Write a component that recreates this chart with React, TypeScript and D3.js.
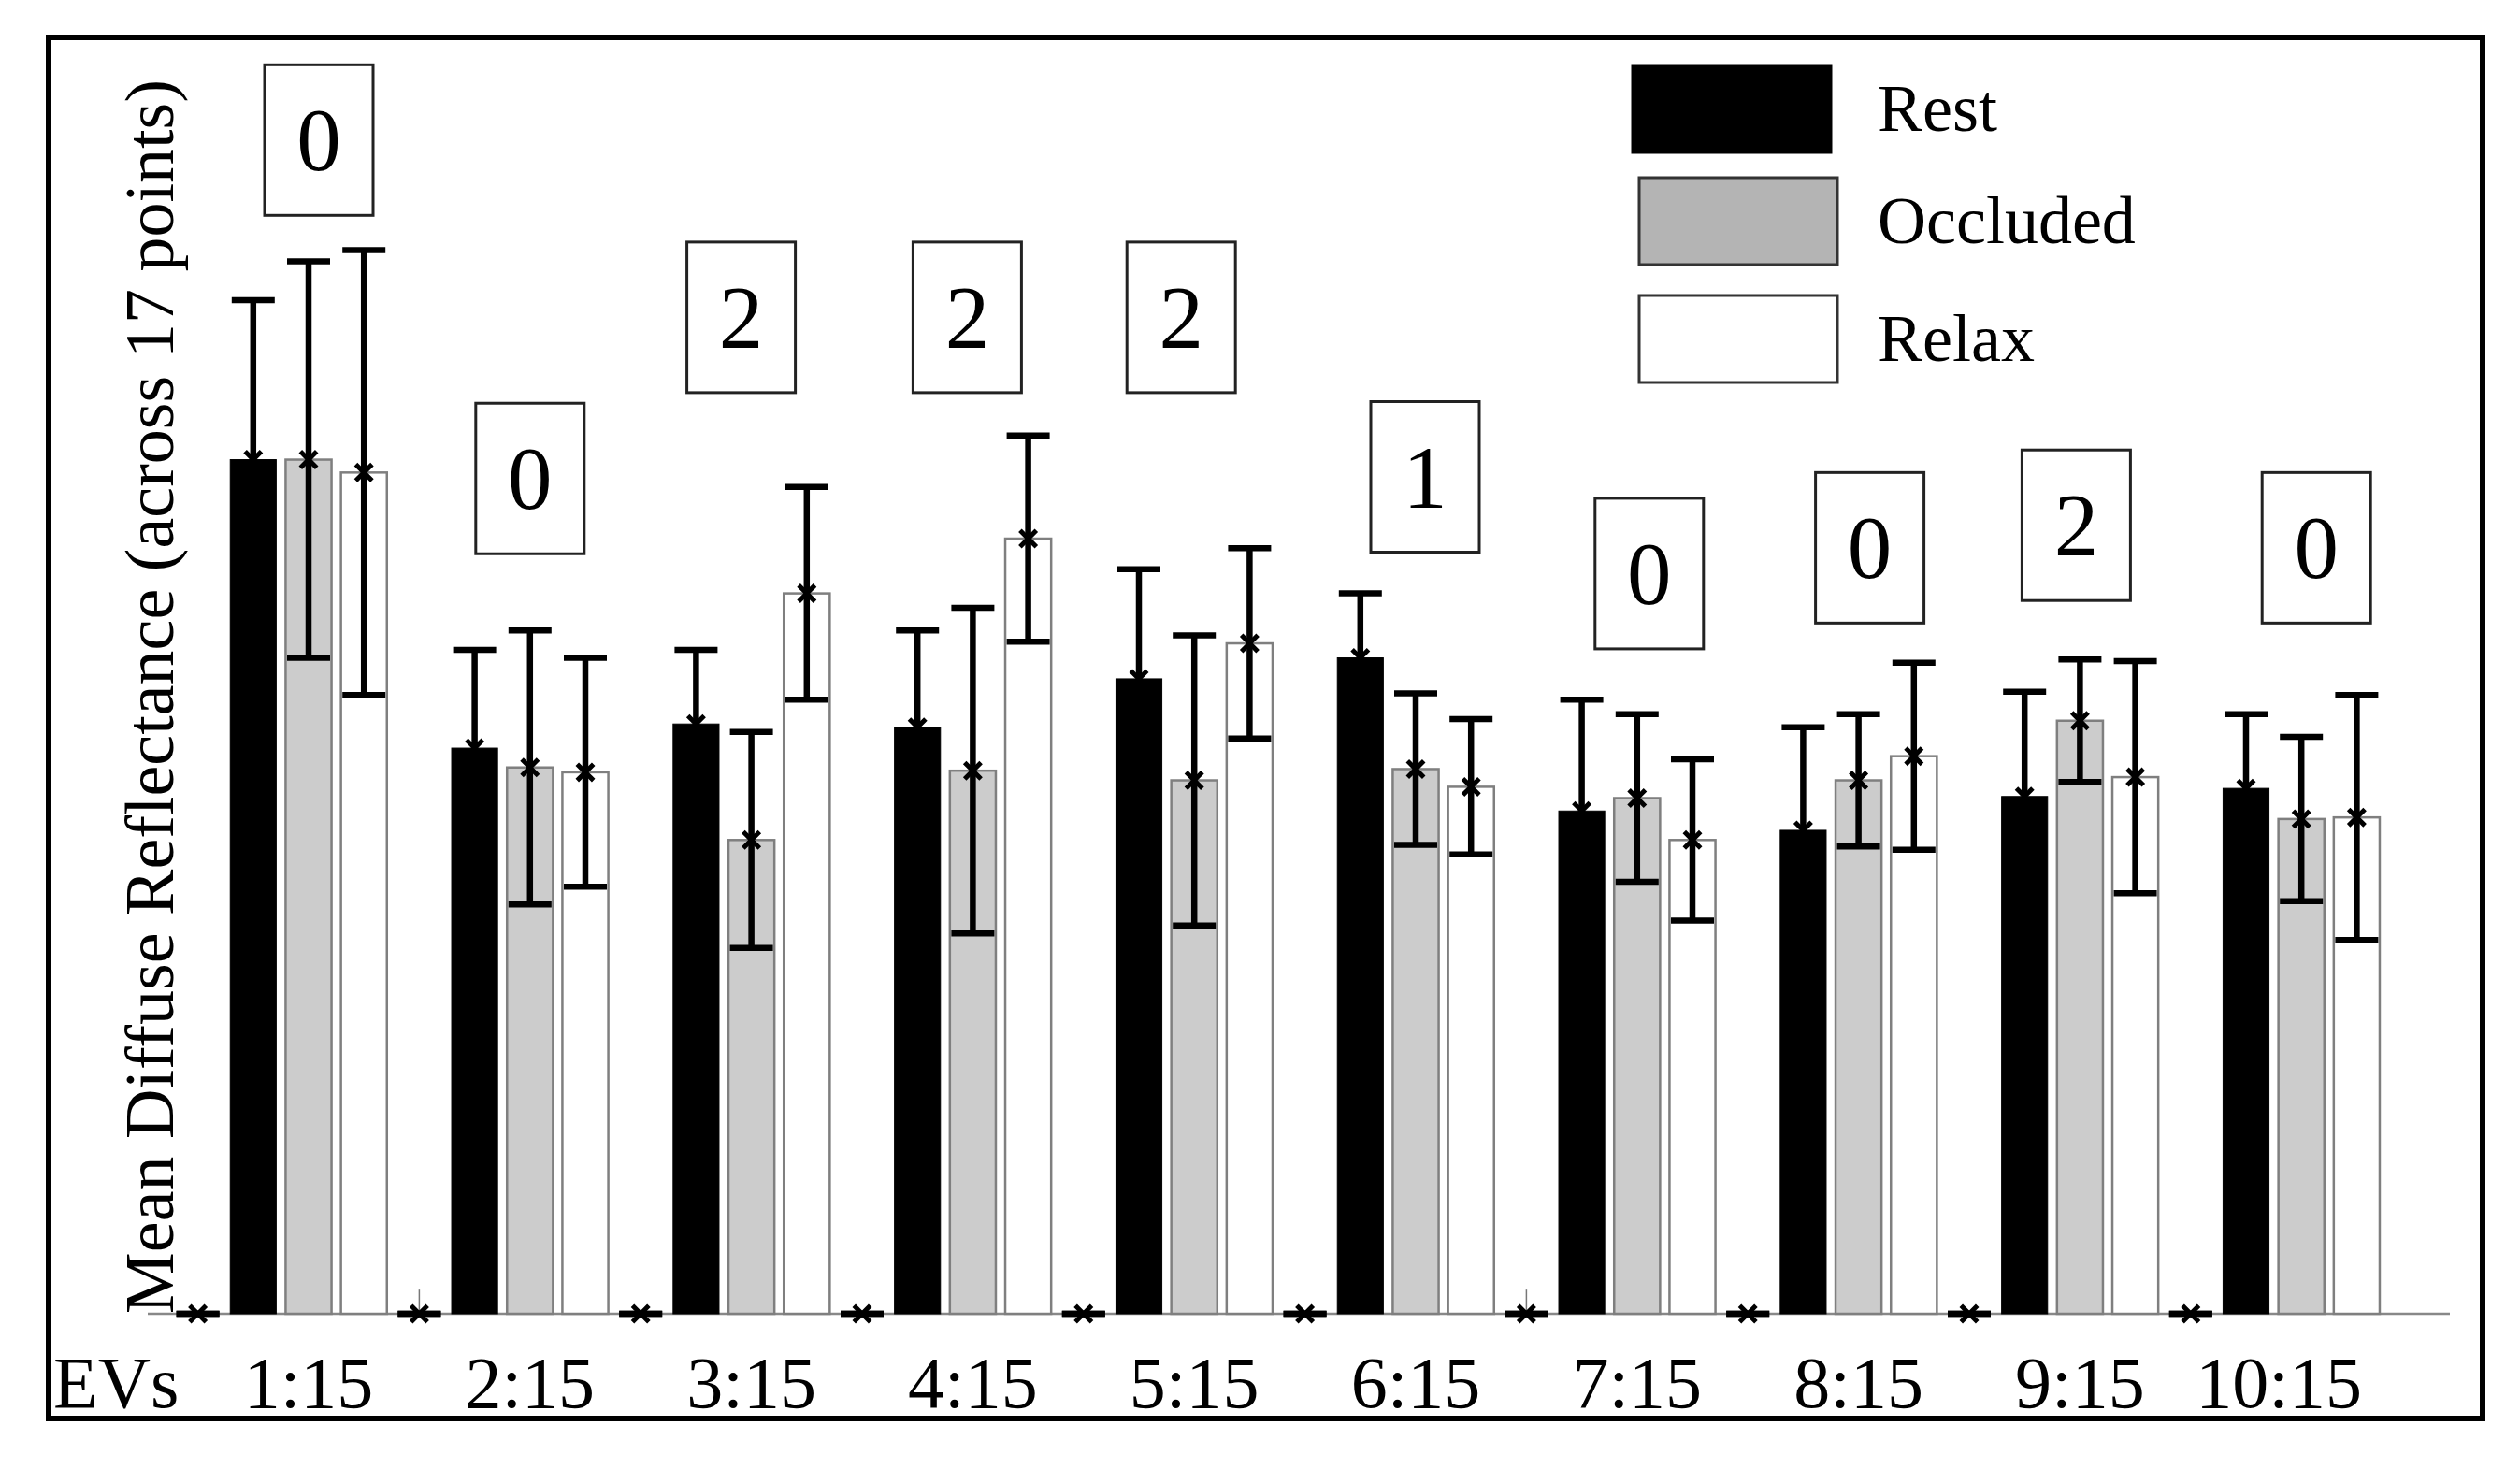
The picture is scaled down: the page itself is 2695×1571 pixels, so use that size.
import * as d3 from "d3";
import { useEffect, useRef } from "react";

const groups = ["1:15", "2:15", "3:15", "4:15", "5:15", "6:15", "7:15", "8:15", "9:15", "10:15"];
const series = ["Zero", "Rest", "Occluded", "Relax"];

// values (arbitrary reflectance units)
const zeroValues = [0, 0, 0, 0, 0, 0, 0, 0, 0, 0];
const zeroErrors = [0, 0, 0, 0, 0, 0, 0, 0, 0, 0];
const zeroTicks = [0, 0.015, 0, 0, 0, 0, 0.015, 0, 0, 0];
const restValues = [0.53, 0.351, 0.366, 0.364, 0.394, 0.407, 0.312, 0.3, 0.321, 0.326];
const restErrors = [0.099, 0.061, 0.046, 0.06, 0.068, 0.04, 0.069, 0.064, 0.065, 0.046];
const occludedValues = [0.53, 0.339, 0.294, 0.337, 0.331, 0.338, 0.32, 0.331, 0.368, 0.307];
const occludedErrors = [0.123, 0.085, 0.067, 0.101, 0.09, 0.047, 0.052, 0.041, 0.038, 0.051];
const relaxValues = [0.522, 0.336, 0.447, 0.481, 0.416, 0.327, 0.294, 0.346, 0.333, 0.308];
const relaxErrors = [0.138, 0.071, 0.066, 0.064, 0.059, 0.042, 0.05, 0.058, 0.072, 0.076];

// count boxes above each group
const boxLabels = ["0", "0", "2", "2", "2", "1", "0", "0", "2", "0"];
const boxLevels = [0.775, 0.565, 0.665, 0.665, 0.665, 0.566, 0.506, 0.522, 0.536, 0.522];

const legendLabels = ["Rest", "Occluded", "Relax"];

const W = 2695;
const H = 1571;
const FONT = "'Liberation Serif', 'Times New Roman', serif";

// hand placed boxes / labels in the original are a little off-centre
const boxNudge = [11, 0, -11, -6, -14, 10, 13, 12, -4, 16];
const labelNudge = [0, 0, 0, 0, 0, 0, 0, 0, 0, -24];

export default function App() {
  const svgRef = useRef<SVGSVGElement>(null);

  useEffect(() => {
    if (!svgRef.current) return;
    const svg = d3.select(svgRef.current);
    svg.selectAll("*").remove();

    const baseline = 1405;
    const x0 = d3.scaleBand<string>().domain(groups).range([182, 2550]).padding(0);
    const x1 = d3
      .scaleBand<string>()
      .domain(series)
      .range([0, x0.bandwidth()])
      .paddingInner(0.17)
      .paddingOuter(0.085);
    const y = d3.scaleLinear().domain([0, 0.792]).range([baseline, 40]);

    const seriesData: Record<string, { v: number[]; e: number[] }> = {
      Zero: { v: zeroValues, e: zeroErrors },
      Rest: { v: restValues, e: restErrors },
      Occluded: { v: occludedValues, e: occludedErrors },
      Relax: { v: relaxValues, e: relaxErrors },
    };
    const fills: Record<string, string> = {
      Zero: "#000",
      Rest: "#000",
      Occluded: "#cccccc",
      Relax: "#ffffff",
    };
    const strokes: Record<string, string> = {
      Zero: "#000",
      Rest: "#000",
      Occluded: "#7f7f7f",
      Relax: "#7f7f7f",
    };

    svg.append("rect").attr("width", W).attr("height", H).attr("fill", "#fff");

    // outer frame
    svg
      .append("rect")
      .attr("x", 52)
      .attr("y", 40)
      .attr("width", 2603)
      .attr("height", 1477)
      .attr("fill", "none")
      .attr("stroke", "#000")
      .attr("stroke-width", 6);

    // baseline
    svg
      .append("line")
      .attr("x1", 158)
      .attr("x2", 2620)
      .attr("y1", baseline)
      .attr("y2", baseline)
      .attr("stroke", "#888")
      .attr("stroke-width", 2.5);

    const bw = x1.bandwidth();
    const capW = 46;

    groups.forEach((g, gi) => {
      const gx = x0(g) ?? 0;

      series.forEach((s) => {
        const v = seriesData[s].v[gi];
        const e = seriesData[s].e[gi];
        const bx = gx + (x1(s) ?? 0);
        const cx = bx + bw / 2;

        if (v > 0) {
          svg
            .append("rect")
            .attr("x", bx)
            .attr("y", y(v))
            .attr("width", bw)
            .attr("height", baseline - y(v))
            .attr("fill", fills[s])
            .attr("stroke", strokes[s])
            .attr("stroke-width", s === "Rest" ? 1 : 2.5);
        }

        if (s === "Zero" && zeroTicks[gi] > 0) {
          svg
            .append("line")
            .attr("x1", cx)
            .attr("x2", cx)
            .attr("y1", baseline)
            .attr("y2", y(zeroTicks[gi]))
            .attr("stroke", "#777")
            .attr("stroke-width", 1.5);
        }

        // error bar
        const eb = svg.append("g").attr("stroke", "#000").attr("stroke-width", 6.5);
        eb.append("line")
          .attr("x1", cx)
          .attr("x2", cx)
          .attr("y1", y(v + e))
          .attr("y2", y(v - e));
        eb.append("line")
          .attr("x1", cx - capW / 2)
          .attr("x2", cx + capW / 2)
          .attr("y1", y(v + e))
          .attr("y2", y(v + e));
        eb.append("line")
          .attr("x1", cx - capW / 2)
          .attr("x2", cx + capW / 2)
          .attr("y1", y(v - e))
          .attr("y2", y(v - e));

        // mean marker
        svg
          .append("path")
          .attr("d", d3.symbol().type(d3.symbolTimes).size(200)())
          .attr("transform", `translate(${cx},${y(v)})`)
          .attr("fill", "none")
          .attr("stroke", "#000")
          .attr("stroke-width", 5);
      });

      // count box
      const occCx = gx + (x1("Occluded") ?? 0) + bw / 2;
      const boxCx = occCx + boxNudge[gi];
      const top = y(boxLevels[gi]);
      svg
        .append("rect")
        .attr("x", boxCx - 58)
        .attr("y", top)
        .attr("width", 116)
        .attr("height", 161)
        .attr("fill", "#fff")
        .attr("stroke", "#222")
        .attr("stroke-width", 3);
      svg
        .append("text")
        .attr("x", boxCx)
        .attr("y", top + 80 + 33)
        .attr("text-anchor", "middle")
        .style("font-family", FONT)
        .style("font-size", "95px")
        .text(boxLabels[gi]);

      // group label
      svg
        .append("text")
        .attr("x", occCx + labelNudge[gi])
        .attr("y", 1505)
        .attr("text-anchor", "middle")
        .style("font-family", FONT)
        .style("font-size", "78px")
        .text(g);
    });

    svg
      .append("text")
      .attr("x", 57)
      .attr("y", 1505)
      .style("font-family", FONT)
      .style("font-size", "78px")
      .text("EVs");

    // y title
    svg
      .append("text")
      .attr("transform", "translate(185,745) rotate(-90)")
      .attr("text-anchor", "middle")
      .style("font-family", FONT)
      .style("font-size", "74px")
      .text("Mean Diffuse Reflectance (across 17 points)");

    // legend
    const legendFill = ["#000", "#b4b4b4", "#fff"];
    const legendTop = [70, 190, 316];
    legendLabels.forEach((lab, i) => {
      svg
        .append("rect")
        .attr("x", i === 0 ? 1746 : 1753)
        .attr("y", legendTop[i])
        .attr("width", 212)
        .attr("height", 93)
        .attr("fill", legendFill[i])
        .attr("stroke", i === 0 ? "#000" : "#333")
        .attr("stroke-width", 3);
      svg
        .append("text")
        .attr("x", 2008)
        .attr("y", legendTop[i] + 70)
        .style("font-family", FONT)
        .style("font-size", "72px")
        .text(lab);
    });
  }, []);

  return (
    <svg
      ref={svgRef}
      width={W}
      height={H}
      style={{ position: "absolute", left: 0, top: 0, display: "block" }}
    />
  );
}
